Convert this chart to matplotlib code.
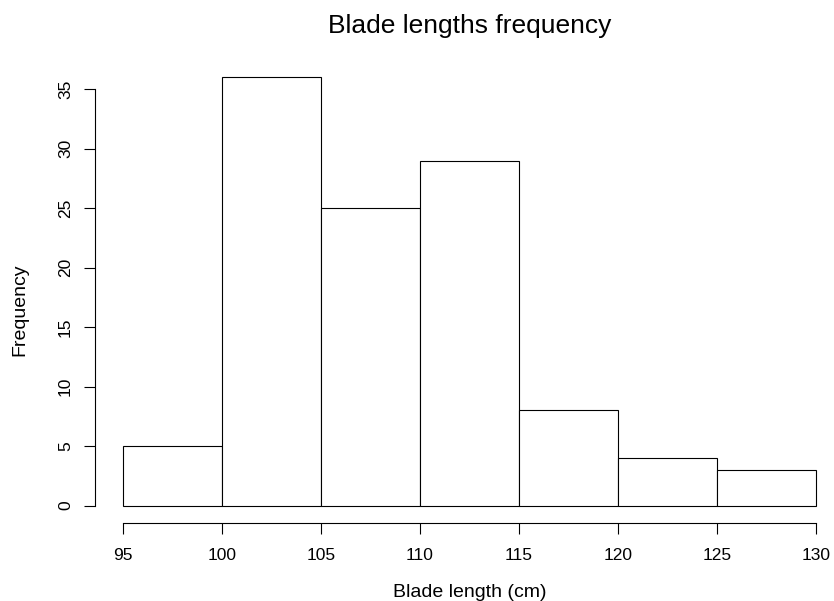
import matplotlib
matplotlib.use("Agg")
import matplotlib.pyplot as plt
import numpy as np

plt.rcParams['font.family'] = ['Liberation Sans', 'DejaVu Sans']

bin_edges = [95, 100, 105, 110, 115, 120, 125, 130]
counts = [5, 36, 25, 29, 8, 4, 3]
x_ticks = [95, 100, 105, 110, 115, 120, 125, 130]
y_ticks = [0, 5, 10, 15, 20, 25, 30, 35]
title = "Blade lengths frequency"
xlabel = "Blade length (cm)"
ylabel = "Frequency"

W, H = 834, 601
fig = plt.figure(figsize=(W / 100, H / 100), dpi=100)

# plot region in pixels (R-style, extends past right edge)
left_px, right_px = 95.3, 843.7
top_px, bottom_px = 60.2, 522.8
ax = fig.add_axes([left_px / W, 1 - bottom_px / H,
                   (right_px - left_px) / W, (bottom_px - top_px) / H])

edges = np.array(bin_edges, dtype=float)
widths = np.diff(edges)
ax.bar(edges[:-1], counts, width=widths, align='edge',
       facecolor='white', edgecolor='black', linewidth=0.8)

xr = edges[-1] - edges[0]
ax.set_xlim(edges[0] - 0.04 * xr, edges[-1] + 0.04 * xr)
ymax = max(counts)
ax.set_ylim(-0.04 * ymax, ymax * 1.04)

for s in ['top', 'right']:
    ax.spines[s].set_visible(False)
ax.spines['left'].set_bounds(y_ticks[0], y_ticks[-1])
ax.spines['bottom'].set_bounds(x_ticks[0], x_ticks[-1])
for s in ['left', 'bottom']:
    ax.spines[s].set_linewidth(0.8)
    ax.spines[s].set_color('black')

ax.set_xticks(x_ticks)
ax.set_yticks(y_ticks)
ax.set_xticklabels([str(v) for v in x_ticks])
ax.set_yticklabels([str(v) for v in y_ticks], rotation=90, va='center')
ax.tick_params(axis='both', direction='out', length=8, width=0.8,
               colors='black', labelsize=12.5)
ax.tick_params(axis='x', pad=10)
ax.tick_params(axis='y', pad=8)

fig.text((left_px + right_px) / 2 / W, 1 - 33 / H, title,
         ha='center', va='baseline', fontsize=19)
fig.text((left_px + right_px) / 2 / W, 1 - 597 / H, xlabel,
         ha='center', va='baseline', fontsize=14)
fig.text(28 / W, 1 - 310 / H, ylabel, rotation=90,
         ha='right', va='center', fontsize=14)

fig.savefig("out.png", dpi=100)
